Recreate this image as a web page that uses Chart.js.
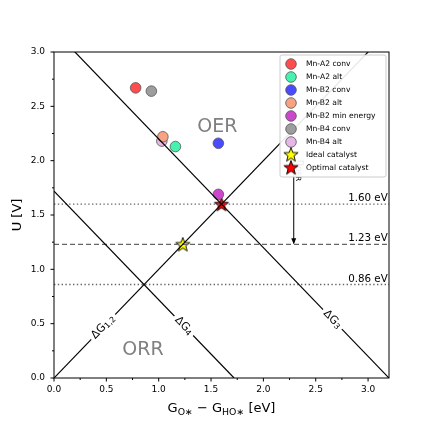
<!DOCTYPE html>
<html>
<head>
<meta charset="utf-8">
<script src="https://cdn.jsdelivr.net/npm/chart.js@4.4.1/dist/chart.umd.min.js"></script>
<style>
  html, body { margin: 0; padding: 0; background: #fff; }
  #wrap { width: 432px; height: 432px; }
</style>
</head>
<body>
<div id="wrap"><canvas id="volcano"></canvas></div>
<script>
// catalysts
const names = ['Mn-A2 conv', 'Mn-A2 alt', 'Mn-B2 conv', 'Mn-B2 alt', 'Mn-B2 min energy', 'Mn-B4 conv', 'Mn-B4 alt'];
const gDiff = [0.78, 1.16, 1.57, 1.04, 1.57, 0.93, 1.03];
const potential = [2.67, 2.13, 2.16, 2.22, 1.69, 2.64, 2.18];
const colors = ['#ff4d4d', '#45f2ae', '#4a4aff', '#f6a283', '#cb48cb', '#9d9d9d', '#e6b6e6'];

const ideal = [1.23, 1.23];
const optimal = [1.6, 1.6];

// scaling relation lines (x, y end points)
const lineG12 = [[0, 0], [3.2, 3.2]];
const lineG4 = [[0, 1.72], [1.72, 0]];
const lineG3 = [[0, 3.2], [3.2, 0]];

const levels = [1.60, 1.23, 0.86];
const levelLabels = ['1.60 eV', '1.23 eV', '0.86 eV'];

const xTicks = [0, 0.5, 1.0, 1.5, 2.0, 2.5, 3.0];
const yTicks = [0, 0.5, 1.0, 1.5, 2.0, 2.5, 3.0];

const FONT = 'DejaVu Sans';

function starImg(fill) {
  const c = document.createElement('canvas');
  c.width = 18; c.height = 18;
  const g = c.getContext('2d');
  g.beginPath();
  for (let i = 0; i < 10; i++) {
    const r = i % 2 === 0 ? 7.5 : 3.1;
    const a = -Math.PI / 2 + i * Math.PI / 5;
    g.lineTo(9 + r * Math.cos(a), 9.6 + r * Math.sin(a));
  }
  g.closePath();
  g.fillStyle = fill;
  g.fill();
  g.lineWidth = 0.9;
  g.strokeStyle = '#000';
  g.stroke();
  return c;
}
const yellowStar = starImg('#ffff00');
const redStar = starImg('#ff0000');

const toPts = arr => arr.map(p => ({x: p[0], y: p[1]}));

const datasets = [];
[lineG12, lineG4, lineG3].forEach(l => datasets.push({
  type: 'line', isGuide: true, data: toPts(l),
  borderColor: '#000', borderWidth: 1.2, pointRadius: 0, fill: false
}));
levels.forEach((v, i) => datasets.push({
  type: 'line', isGuide: true, data: [{x: 0, y: v}, {x: 3.2, y: v}],
  borderColor: '#666', borderWidth: 1.4,
  borderDash: i === 1 ? [5, 3] : [1.4, 2.4],
  pointRadius: 0, fill: false
}));
names.forEach((n, i) => datasets.push({
  type: 'scatter', label: n, data: [{x: gDiff[i], y: potential[i]}],
  backgroundColor: colors[i], borderColor: '#555', borderWidth: 0.8,
  pointRadius: 5.3
}));
datasets.push({type: 'scatter', label: 'Ideal catalyst', data: [{x: ideal[0], y: ideal[1]}], pointStyle: yellowStar});
datasets.push({type: 'scatter', label: 'Optimal catalyst', data: [{x: optimal[0], y: optimal[1]}], pointStyle: redStar});

function subText(ctx, parts, x, y, size, align) {
  // parts: [text, isSub]
  let w = 0;
  parts.forEach(p => {
    ctx.font = (p[1] ? size * 0.72 : size) + 'px ' + FONT;
    w += ctx.measureText(p[0]).width;
  });
  let cx = align === 'center' ? x - w / 2 : x;
  parts.forEach(p => {
    ctx.font = (p[1] ? size * 0.72 : size) + 'px ' + FONT;
    ctx.fillText(p[0], cx, p[1] ? y + size * 0.2 : y);
    cx += ctx.measureText(p[0]).width;
  });
  return w;
}

const extras = {
  id: 'extras',
  afterDatasetsDraw(chart) {
    const ctx = chart.ctx;
    const xs = chart.scales.x, ys = chart.scales.y;
    const a = chart.chartArea;
    const px = v => xs.getPixelForValue(v), py = v => ys.getPixelForValue(v);
    ctx.save();

    // level labels, clipped to the plot like the original
    ctx.save();
    ctx.beginPath();
    ctx.rect(a.left, a.top, a.right - a.left, a.bottom - a.top);
    ctx.clip();
    ctx.fillStyle = '#000';
    ctx.font = '10.3px ' + FONT;
    ctx.textAlign = 'left';
    ctx.textBaseline = 'alphabetic';
    levels.forEach((v, i) => ctx.fillText(levelLabels[i], px(2.81), py(v) - 3));
    ctx.restore();

    // frame
    ctx.strokeStyle = '#000';
    ctx.lineWidth = 1;
    ctx.strokeRect(a.left, a.top, a.right - a.left, a.bottom - a.top);

    // tick marks (major + minor), outward
    ctx.beginPath();
    for (let v = 0; v <= 3.2001; v += 0.25) {
      const major = Math.abs(v * 2 - Math.round(v * 2)) < 1e-6;
      const len = major ? 3.5 : 2;
      ctx.moveTo(px(v), a.bottom); ctx.lineTo(px(v), a.bottom + len);
      if (v <= 3.0001) { ctx.moveTo(a.left, py(v)); ctx.lineTo(a.left - len, py(v)); }
    }
    ctx.stroke();

    // region labels
    ctx.fillStyle = '#808080';
    ctx.font = '19px ' + FONT;
    ctx.textAlign = 'center';
    ctx.textBaseline = 'middle';
    ctx.fillText('OER', px(1.56), py(2.31));
    ctx.fillText('ORR', px(0.85), py(0.26));

    // line labels with white gap
    const slope = Math.atan2(py(1) - py(0), px(1) - px(0));
    const lab = (xv, yv, ang, parts) => {
      ctx.save();
      ctx.translate(px(xv), py(yv));
      ctx.rotate(ang);
      ctx.textAlign = 'left';
      ctx.textBaseline = 'middle';
      let w = 0;
      parts.forEach(p => { ctx.font = (p[1] ? 11 * 0.72 : 11) + 'px ' + FONT; w += ctx.measureText(p[0]).width; });
      ctx.fillStyle = '#fff';
      ctx.fillRect(-w / 2 - 3, -5, w + 6, 10);
      ctx.fillStyle = '#000';
      subText(ctx, parts, 0, 0, 11, 'center');
      ctx.restore();
    };
    lab(0.47, 0.47, slope, [['ΔG', false], ['1,2', true]]);
    lab(1.24, 0.48, -slope, [['ΔG', false], ['4', true]]);
    lab(2.66, 0.54, -slope, [['ΔG', false], ['3', true]]);

    // overpotential arrow
    const ax = px(2.29);
    ctx.strokeStyle = '#000';
    ctx.fillStyle = '#000';
    ctx.lineWidth = 1;
    ctx.beginPath();
    ctx.moveTo(ax, py(2.0));
    ctx.lineTo(ax, py(1.23) - 1);
    ctx.stroke();
    ctx.beginPath();
    ctx.moveTo(ax, py(1.23));
    ctx.lineTo(ax - 2.5, py(1.23) - 6);
    ctx.lineTo(ax + 2.5, py(1.23) - 6);
    ctx.closePath();
    ctx.fill();
    ctx.save();
    ctx.translate(ax + 4, py(1.81));
    ctx.rotate(Math.PI / 2);
    ctx.textBaseline = 'alphabetic';
    ctx.textAlign = 'left';
    const etaW = (() => { ctx.font = '10px ' + FONT; const w1 = ctx.measureText('η').width; ctx.font = '7.2px ' + FONT; return w1 + ctx.measureText('OER').width; })();
    subText(ctx, [['η', false], ['OER', true]], -etaW, 0, 10, 'left');
    ctx.restore();

    // legend
    const lx = 280, ly = 55, lw = 106, lh = 122;
    ctx.fillStyle = 'rgba(255,255,255,0.9)';
    ctx.strokeStyle = '#ccc';
    ctx.lineWidth = 1;
    ctx.beginPath();
    ctx.roundRect(lx, ly, lw, lh, 2);
    ctx.fill();
    ctx.stroke();
    ctx.font = '7.6px ' + FONT;
    ctx.textAlign = 'left';
    ctx.textBaseline = 'middle';
    chart.data.datasets.filter(d => !d.isGuide).forEach((d, i) => {
      const y = ly + 9 + i * 13;
      if (d.pointStyle) {
        ctx.drawImage(d.pointStyle, lx + 11 - 9, y - 9.6);
      } else {
        ctx.beginPath();
        ctx.arc(lx + 11, y, 5.3, 0, Math.PI * 2);
        ctx.fillStyle = d.backgroundColor;
        ctx.fill();
        ctx.strokeStyle = '#555';
        ctx.lineWidth = 0.8;
        ctx.stroke();
      }
      ctx.fillStyle = '#000';
      ctx.fillText(d.label, lx + 26, y);
    });

    // x axis title with subscripts
    ctx.fillStyle = '#000';
    ctx.textAlign = 'left';
    ctx.textBaseline = 'alphabetic';
    subText(ctx, [['G', false], ['O∗', true], [' − G', false], ['HO∗', true], [' [eV]', false]],
      (a.left + a.right) / 2, 412, 13, 'center');
    ctx.restore();
  }
};

new Chart(document.getElementById('volcano'), {
  type: 'scatter',
  data: {datasets},
  plugins: [extras],
  options: {
    responsive: true,
    maintainAspectRatio: false,
    animation: false,
    devicePixelRatio: 1,
    layout: {padding: {left: 0, top: 52, right: 43, bottom: 0}},
    plugins: {legend: {display: false}, tooltip: {enabled: false}},
    scales: {
      x: {
        type: 'linear', min: 0, max: 3.2,
        afterBuildTicks: s => { s.ticks = xTicks.map(v => ({value: v})); },
        afterFit: s => { s.height = 54; },
        grid: {display: false, drawTicks: false},
        border: {display: false},
        ticks: {padding: 6, color: '#000', font: {family: FONT, size: 9}, maxRotation: 0,
          callback: v => v.toFixed(1)}
      },
      y: {
        type: 'linear', min: 0, max: 3.0,
        afterBuildTicks: s => { s.ticks = yTicks.map(v => ({value: v})); },
        afterFit: s => { s.width = 54; },
        grid: {display: false, drawTicks: false},
        border: {display: false},
        title: {display: true, text: 'U [V]', color: '#000', font: {family: FONT, size: 13}, padding: {top: 10}},
        ticks: {padding: 9, color: '#000', font: {family: FONT, size: 9},
          callback: v => v.toFixed(1)}
      }
    }
  }
});
</script>
</body>
</html>
